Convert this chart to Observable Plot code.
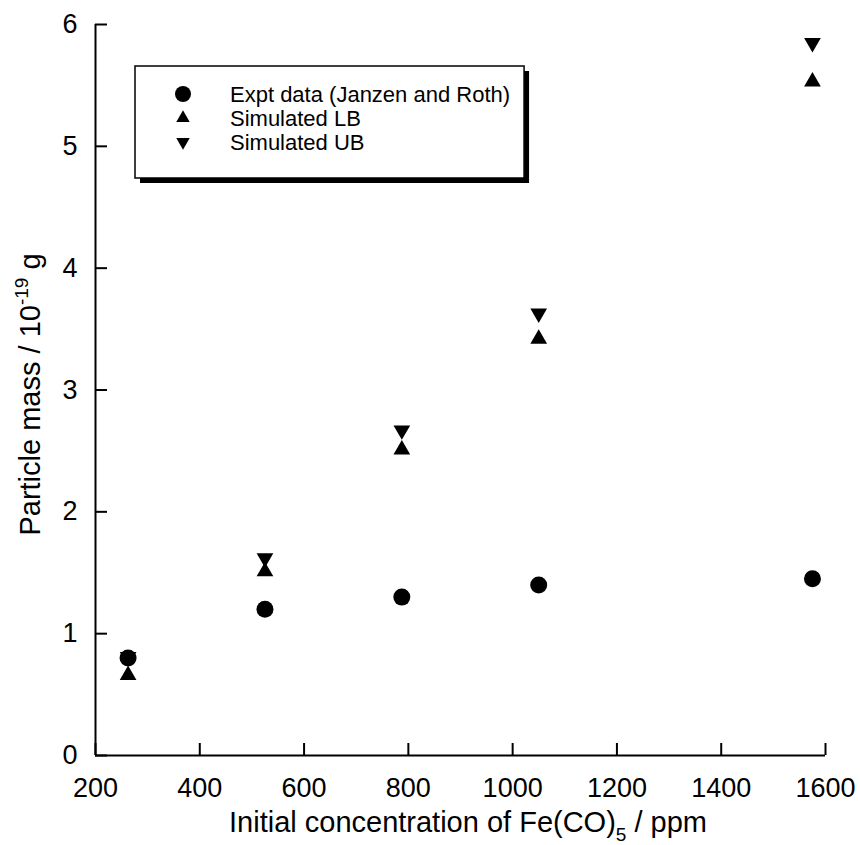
<!DOCTYPE html>
<html>
<head>
<meta charset="utf-8">
<script src="https://cdn.jsdelivr.net/npm/d3@7"></script>
<script src="https://cdn.jsdelivr.net/npm/@observablehq/plot@0.6"></script>
<style>
  html, body { margin: 0; padding: 0; background: #fff; }
  #chart svg { display: block; }
</style>
</head>
<body>
<div id="chart"></div>
<script>
// ---- data ----
const concentration = [262.5, 525, 787.5, 1050, 1575];      // ppm Fe(CO)5
const exptMass      = [0.80, 1.20, 1.30, 1.40, 1.45];       // Expt data (Janzen and Roth)
const simulatedLB   = [0.66, 1.51, 2.51, 3.42, 5.53];       // Simulated LB
const simulatedUB   = [0.81, 1.62, 2.67, 3.63, 5.85];       // Simulated UB
const xTicks = [200, 400, 600, 800, 1000, 1200, 1400, 1600];
const yTicks = [0, 1, 2, 3, 4, 5, 6];
const seriesNames = ["Expt data (Janzen and Roth)", "Simulated LB", "Simulated UB"];
const xTitle = ["Initial concentration of Fe(CO)", "5", " / ppm"];
const yTitle = ["Particle mass / 10", "-19", " g"];

// ---- layout ----
const W = 860, H = 845;
const mL = 95, mR = 35, mT = 24, mB = 90;
const plotW = W - mL - mR, plotH = H - mT - mB;
const FONT = "'Liberation Sans', Arial, Helvetica, sans-serif";

const triangleDown = {
  draw(context, size) {
    const y = -Math.sqrt(size / (3 * Math.sqrt(3)));
    context.moveTo(0, -y * 2);
    context.lineTo(-Math.sqrt(3) * y, y);
    context.lineTo(Math.sqrt(3) * y, y);
    context.closePath();
  }
};

const rows = concentration.map((c, i) => ({c, expt: exptMass[i], lb: simulatedLB[i], ub: simulatedUB[i]}));

const chart = Plot.plot({
  width: W, height: H,
  marginLeft: mL, marginRight: mR, marginTop: mT, marginBottom: mB,
  style: {fontFamily: FONT, fontSize: "26px", color: "black", background: "white"},
  x: {domain: [xTicks[0], xTicks[xTicks.length - 1]]},
  y: {domain: [yTicks[0], yTicks[yTicks.length - 1]]},
  marks: [
    Plot.ruleX([xTicks[0]], {stroke: "black", strokeWidth: 2}),
    Plot.ruleY([yTicks[0]], {stroke: "black", strokeWidth: 2}),
    Plot.tickX(xTicks, {x: d => d, stroke: "black", strokeWidth: 2, insetTop: plotH - 12}),
    Plot.tickY(yTicks, {y: d => d, stroke: "black", strokeWidth: 2, insetRight: plotW - 12}),
    Plot.axisX({ticks: xTicks, tickSize: 0, tickPadding: 22, label: null, tickFormat: d => String(d), fontSize: 27}),
    Plot.axisY({ticks: yTicks, tickSize: 0, tickPadding: 18, label: null, tickFormat: d => String(d), fontSize: 27}),
    Plot.dot(rows, {x: "c", y: "ub", symbol: triangleDown, r: 6.2, fill: "black", stroke: "none"}),
    Plot.dot(rows, {x: "c", y: "lb", symbol: "triangle", r: 6.2, fill: "black", stroke: "none"}),
    Plot.dot(rows, {x: "c", y: "expt", r: 8.5, fill: "black", stroke: "none"})
  ]
});

document.getElementById("chart").appendChild(chart);

// ---- axis titles with sub/superscripts ----
const svg = d3.select(chart);
const xt = svg.append("text")
  .attr("x", mL + plotW / 2 + 8).attr("y", 832)
  .attr("text-anchor", "middle")
  .attr("font-family", FONT).attr("font-size", 29).attr("fill", "black");
xt.append("tspan").text(xTitle[0]);
xt.append("tspan").attr("font-size", 19).attr("dy", 9).text(xTitle[1]);
xt.append("tspan").attr("dy", -9).text(xTitle[2]);

const yt = svg.append("text")
  .attr("transform", `translate(40,${mT + plotH / 2 + 5}) rotate(-90)`)
  .attr("text-anchor", "middle")
  .attr("font-family", FONT).attr("font-size", 29).attr("fill", "black");
yt.append("tspan").text(yTitle[0]);
yt.append("tspan").attr("font-size", 19).attr("dy", -12).text(yTitle[1]);
yt.append("tspan").attr("dy", 12).text(yTitle[2]);

// ---- legend with drop shadow ----
const lg = svg.append("g").attr("font-family", FONT).attr("font-size", 22).attr("text-anchor", "start");
const lx = 135, ly = 66, rowY = [94, 118, 142], textX = 230, symX = 183;
const shadow = lg.append("rect");
const box = lg.append("rect");
const texts = seriesNames.map((name, i) =>
  lg.append("text").attr("x", textX).attr("y", rowY[i]).attr("dy", "0.36em")
    .attr("text-anchor", "start").attr("fill", "black").text(name));
const maxW = d3.max(texts, t => t.node().getComputedTextLength());
const bw = textX + maxW + 14 - lx, bh = 178 - ly;
shadow.attr("x", lx + 5).attr("y", ly + 5).attr("width", bw).attr("height", bh).attr("fill", "black");
box.attr("x", lx).attr("y", ly).attr("width", bw).attr("height", bh).attr("fill", "white").attr("stroke", "black").attr("stroke-width", 1.5);
texts.forEach(t => t.raise());
const symbols = [d3.symbolCircle, d3.symbolTriangle, triangleDown];
const sizes = [Math.PI * 8 * 8, Math.PI * 5 * 5, Math.PI * 5 * 5];
symbols.forEach((s, i) => {
  lg.append("path").attr("transform", `translate(${symX},${rowY[i]})`)
    .attr("d", d3.symbol(s, sizes[i])()).attr("fill", "black");
});
</script>
</body>
</html>
